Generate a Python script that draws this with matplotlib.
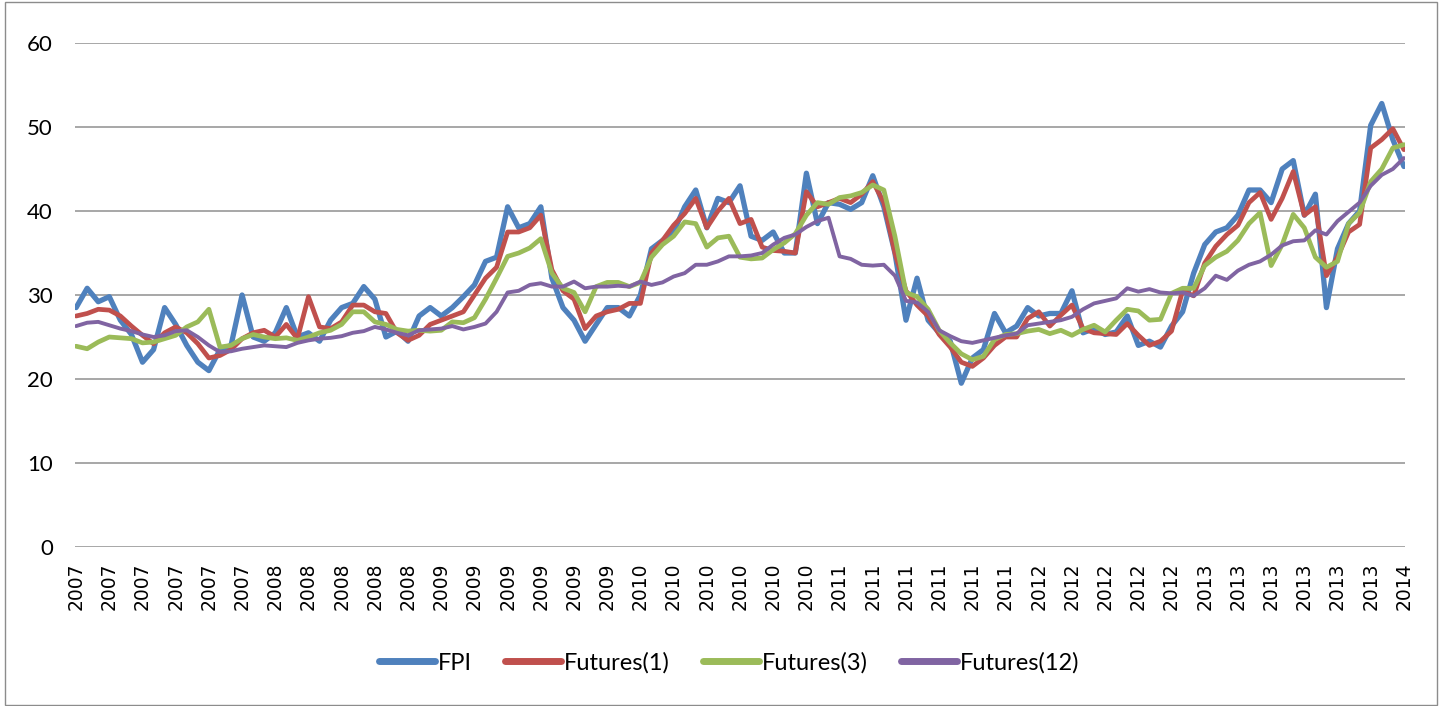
import matplotlib
matplotlib.use("Agg")
import matplotlib.pyplot as plt
from matplotlib.patches import Rectangle

# ----------- DATA (one point every ~3 weeks) -----------
fpi = [28.5, 30.8, 29.2, 29.8, 27.0, 25.3, 22.0, 23.5, 28.5, 26.5,
       24.0, 22.0, 21.0, 23.5, 24.0, 30.0, 25.0, 24.5, 25.5, 28.5,
       25.0, 25.5, 24.5, 27.0, 28.5, 29.0, 31.0, 29.5, 25.0, 25.7,
       24.5, 27.5, 28.5, 27.5, 28.5, 29.8, 31.2, 34.0, 34.5, 40.5,
       38.0, 38.5, 40.5, 32.0, 28.5, 27.0, 24.5, 26.5, 28.5, 28.5,
       27.5, 30.0, 35.5, 36.5, 37.5, 40.5, 42.5, 38.0, 41.5, 41.0,
       43.0, 37.0, 36.5, 37.5, 35.0, 35.0, 44.5, 38.5, 41.0, 40.8,
       40.2, 41.0, 44.2, 40.5, 35.0, 27.0, 32.0, 27.0, 25.5, 24.5,
       19.5, 22.5, 23.5, 27.8, 25.5, 26.3, 28.5, 27.5, 27.8, 27.8,
       30.5, 25.5, 26.0, 25.3, 25.6, 27.5, 24.0, 24.5, 23.8, 26.3,
       28.0, 32.6, 36.0, 37.5, 38.0, 39.5, 42.5, 42.5, 41.0, 45.0,
       46.0, 39.5, 42.0, 28.5, 35.5, 38.5, 40.0, 50.2, 52.8, 48.5,
       45.3]

fut1 = [27.5, 27.8, 28.3, 28.2, 27.5, 26.3, 25.2, 24.2, 25.5, 26.2,
        25.5, 24.2, 22.5, 22.8, 23.5, 24.8, 25.5, 25.8, 25.0, 26.5,
        24.8, 29.8, 26.2, 26.0, 26.8, 28.8, 28.8, 28.0, 27.8, 25.5,
        24.6, 25.2, 26.5, 27.0, 27.5, 28.0, 30.0, 32.0, 33.3, 37.5,
        37.5, 38.0, 39.5, 33.0, 30.5, 29.5, 26.0, 27.5, 28.0, 28.3,
        29.0, 29.0, 35.0, 36.5, 38.3, 39.7, 41.5, 38.0, 40.0, 41.5,
        38.5, 39.0, 35.7, 35.3, 35.2, 35.0, 42.3, 40.5, 41.0, 41.5,
        41.0, 42.0, 43.5, 41.0, 35.0, 30.5, 28.8, 27.5, 25.3, 23.8,
        22.0, 21.5, 22.5, 24.0, 25.0, 25.0, 27.2, 28.0, 26.3, 27.6,
        28.8, 26.0, 25.5, 25.4, 25.3, 26.6, 25.2, 24.0, 24.5, 25.7,
        30.5, 29.9, 33.8, 35.8, 37.2, 38.3, 41.0, 42.2, 39.0, 41.5,
        44.7, 39.5, 40.5, 32.3, 34.5, 37.5, 38.4, 47.5, 48.5, 49.8,
        47.3]

fut3 = [23.9, 23.6, 24.4, 25.0, 24.9, 24.8, 24.3, 24.4, 24.8, 25.2,
        26.2, 26.8, 28.3, 23.8, 24.0, 24.8, 25.3, 25.0, 24.8, 24.9,
        24.6, 25.0, 25.5, 25.8, 26.5, 28.0, 28.0, 26.8, 26.5, 25.9,
        25.7, 25.8, 25.7, 25.8, 26.8, 26.7, 27.3, 29.5, 32.0, 34.6,
        35.0, 35.6, 36.7, 32.6, 30.8, 30.3, 28.0, 31.0, 31.5, 31.5,
        31.0, 31.5, 34.5, 36.0, 37.0, 38.7, 38.5, 35.7, 36.8, 37.0,
        34.5, 34.3, 34.4, 35.4, 36.2, 37.3, 39.5, 41.0, 40.8, 41.6,
        41.8, 42.2, 43.1, 42.5, 37.0, 30.3, 29.8, 28.3, 25.8, 24.3,
        23.0, 22.3, 22.7, 24.7, 25.3, 25.4, 25.7, 25.9, 25.4, 25.8,
        25.2, 25.9, 26.4, 25.6, 27.0, 28.3, 28.1, 27.0, 27.1, 30.2,
        30.8, 30.8, 33.5, 34.5, 35.2, 36.5, 38.5, 39.8, 33.5, 36.0,
        39.6, 38.0, 34.5, 33.3, 34.0, 38.5, 39.8, 43.5, 45.0, 47.5,
        47.9]

fut12 = [26.3, 26.7, 26.8, 26.4, 26.0, 25.7, 25.3, 25.0, 25.2, 25.7,
         25.8, 25.0, 24.0, 23.2, 23.3, 23.6, 23.8, 24.0, 23.9, 23.8,
         24.3, 24.6, 24.8, 24.9, 25.1, 25.5, 25.7, 26.2, 25.9, 25.5,
         25.2, 25.8, 25.9, 26.0, 26.3, 25.9, 26.2, 26.6, 28.0, 30.3,
         30.5, 31.2, 31.4, 31.0, 31.0, 31.6, 30.8, 31.0, 31.0, 31.1,
         31.0, 31.6, 31.2, 31.5, 32.2, 32.6, 33.6, 33.6, 34.0, 34.6,
         34.6, 34.7, 35.0, 36.0, 36.8, 37.2, 38.1, 38.8, 39.2, 34.6,
         34.3, 33.6, 33.5, 33.6, 32.3, 29.3, 29.1, 28.0, 25.8, 25.1,
         24.5, 24.3, 24.6, 24.9, 25.2, 25.4, 26.4, 26.6, 26.8, 27.0,
         27.4, 28.3, 29.0, 29.3, 29.6, 30.8, 30.4, 30.7, 30.3, 30.2,
         30.3, 29.9, 30.8, 32.3, 31.8, 32.9, 33.6, 34.0, 34.8, 35.9,
         36.4, 36.5, 37.7, 37.2, 38.8, 39.9, 41.0, 43.0, 44.3, 45.0,
         46.3]

tick_years = ["2007"] * 6 + ["2008"] * 5 + ["2009"] * 6 + ["2010"] * 6 + \
             ["2011"] * 6 + ["2012"] * 5 + ["2013"] * 6 + ["2014"]
tick_step = 3

series = [("FPI", fpi, "#4F81BD", 3.8),
          ("Futures(1)", fut1, "#C0504D", 3.4),
          ("Futures(3)", fut3, "#9BBB59", 3.4),
          ("Futures(12)", fut12, "#8064A2", 2.8)]

# ----------- FIGURE -----------
W, H = 1445, 706
fig = plt.figure(figsize=(W / 100, H / 100), dpi=100)
ax = fig.add_axes([75 / W, 1 - 547 / H, (1405 - 75) / W, (547 - 43) / H])

x = list(range(len(fpi)))
for name, vals, col, lw in series:
    ax.plot(x, vals, color=col, lw=lw, label=name, solid_joinstyle="round",
            solid_capstyle="round")

ax.set_ylim(0, 60)
ax.set_xlim(-0.1, len(fpi) - 0.9)
ax.set_yticks(range(0, 61, 10))
ax.yaxis.grid(True, color="#a0a0a0", lw=1.3)
ax.set_axisbelow(True)
for s in ax.spines.values():
    s.set_visible(False)
ax.tick_params(axis="y", length=0, pad=16, labelsize=16)
ax.tick_params(axis="x", length=0, pad=11, labelsize=13.5)
ax.set_xticks(range(0, len(tick_years) * tick_step, tick_step))
ax.set_xticklabels(tick_years, rotation=90, family="DejaVu Sans")
for lab in ax.get_yticklabels():
    lab.set_family("Lato")

leg = fig.legend(loc="center", bbox_to_anchor=(729 / W, 1 - 663 / H), ncol=4,
                 frameon=False, handlelength=2.4, handletextpad=0.1,
                 columnspacing=1.4, prop={"family": "Lato", "size": 17})
for line in leg.get_lines():
    line.set_linewidth(5)
    line.set_solid_capstyle("round")

# outer chart border
fig.patches.append(Rectangle((5 / W, 1.5 / H), (1437 - 5) / W, (704 - 1.5) / H,
                             transform=fig.transFigure, fill=False,
                             edgecolor="#8c8c8c", lw=1.0))

fig.savefig("out.png", dpi=100)
